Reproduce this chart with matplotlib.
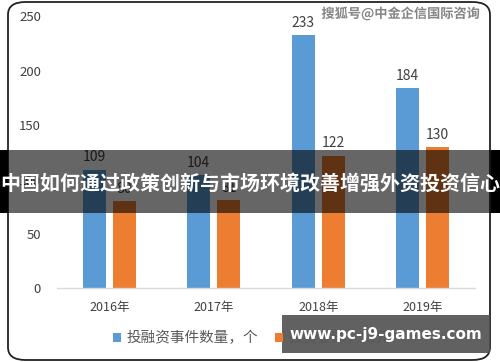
import matplotlib
matplotlib.use("Agg")
import matplotlib.pyplot as plt
from matplotlib.patches import FancyBboxPatch, Rectangle
import matplotlib.patheffects as pe
import numpy as np

plt.rcParams['font.family'] = ['Noto Sans CJK SC', 'DejaVu Sans']

categories = ["2016年", "2017年", "2018年", "2019年"]
events = [109, 104, 233, 184]
amounts = [80, 81, 122, 130]
series_names = ["投融资事件数量，个", "投资金额，亿元"]
yticks = [0, 50, 100, 150, 200, 250]
title = "中国如何通过政策创新与市场环境改善增强外资投资信心"
watermark = "搜狐号@中金企信国际咨询"
site = "www.pc-j9-games.com"

W, H = 500, 362
fig = plt.figure(figsize=(W / 100, H / 100), dpi=100)
fig.patch.set_facecolor("white")

def fx(px):
    return px / W

def fy(py):
    return 1 - py / H

# outer rounded frame
frame = FancyBboxPatch((fx(8), fy(360)), fx(490) - fx(8), fy(2) - fy(360),
                       boxstyle="round,pad=0,rounding_size=0.035",
                       transform=fig.transFigure, facecolor="white",
                       edgecolor="#222222", linewidth=1.3, zorder=-1)
fig.patches.append(frame)

ax = fig.add_axes([fx(57), fy(288.3), fx(475) - fx(57), fy(16.5) - fy(288.3)])
ax.set_facecolor("none")
x = np.arange(len(categories))
bw = 0.22
off = 0.143
blue = "#5B9BD5"
orange = "#ED7D31"
b1 = ax.bar(x - off, events, bw, color=blue, label=series_names[0], zorder=2)
b2 = ax.bar(x + off, amounts, bw, color=orange, label=series_names[1], zorder=2)
for rect, v in zip(b1, events):
    ax.text(rect.get_x() + rect.get_width() / 2, v + 5, str(v), ha="center",
            va="bottom", fontsize=10, color="#404040", fontweight="medium")
for rect, v in zip(b2, amounts):
    ax.text(rect.get_x() + rect.get_width() / 2, v + 5, str(v), ha="center",
            va="bottom", fontsize=10, color="#404040", fontweight="medium")

ax.set_xlim(-0.5, 3.5)
ax.set_ylim(0, 250)
ax.set_yticks(yticks)
ax.set_yticklabels([str(t) for t in yticks], fontsize=9.5, color="#404040",
                   fontweight="medium")
ax.set_xticks(x)
ax.set_xticklabels(categories, fontsize=9, color="#404040", fontweight="medium")
ax.tick_params(axis="both", length=0)
ax.tick_params(axis="y", pad=11.5)
ax.tick_params(axis="x", pad=9)
for s in ["top", "right", "left"]:
    ax.spines[s].set_visible(False)
ax.spines["bottom"].set_color("#D9D9D9")
ax.spines["bottom"].set_linewidth(1)

leg = fig.legend(handles=[b1, b2], labels=series_names, loc="center",
                 bbox_to_anchor=(fx(252), fy(338)), ncol=2, frameon=False,
                 fontsize=10.5, handlelength=0.55, handleheight=0.55,
                 handletextpad=0.35, columnspacing=1.2)
for t in leg.get_texts():
    t.set_color("#595959")

# watermark
fig.text(fx(401), fy(14), watermark, ha="center", va="center", fontsize=9.5,
         fontweight="bold", color="#858585",
         path_effects=[pe.withStroke(linewidth=1.5, foreground="white")])

# banner
fig.patches.append(Rectangle((0, fy(213)), 1, fy(150) - fy(213),
                             transform=fig.transFigure, facecolor="black",
                             alpha=0.6, zorder=5))
fig.patches.append(Rectangle((0, fy(213)), fx(8), fy(150) - fy(213),
                             transform=fig.transFigure, facecolor="black",
                             zorder=5))
fig.patches.append(Rectangle((fx(491), fy(213)), fx(9), fy(150) - fy(213),
                             transform=fig.transFigure, facecolor="black",
                             zorder=5))
fig.text(0.5, fy(183), title, ha="center", va="center", fontsize=14.4,
         fontweight="bold", color="white", zorder=6)

# site box
fig.patches.append(Rectangle((fx(282), fy(353)), fx(490) - fx(282), fy(315) - fy(353),
                             transform=fig.transFigure, facecolor="#505050",
                             alpha=0.9, zorder=5))
fig.text(fx(386), fy(334), site, ha="center", va="center", fontsize=11,
         fontweight="bold", color="white", family=["DejaVu Sans"], zorder=6)

fig.savefig("out.png", dpi=100)
